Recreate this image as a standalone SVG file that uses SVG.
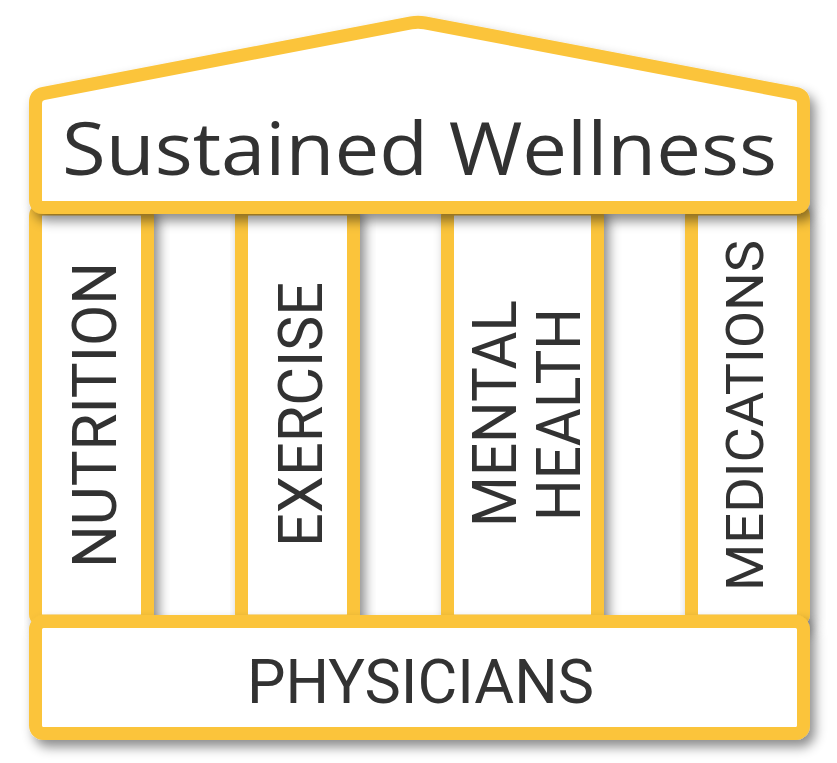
<svg xmlns="http://www.w3.org/2000/svg" width="837" height="763" viewBox="0 0 837 763">
  <defs>
    <filter id="shadow" x="-10%" y="-10%" width="130%" height="135%">
      <feDropShadow dx="5" dy="7" stdDeviation="6" flood-color="#000" flood-opacity="0.45"/>
    </filter>
    <style>
      .shape { fill: #FFFFFF; stroke: #FBC43B; stroke-width: 13; stroke-linejoin: round; }
      .lbl { font-family: Roboto, "Liberation Sans", sans-serif; fill: #333333; text-anchor: middle; }
      .title { font-family: "Open Sans", Inter, "Liberation Sans", sans-serif; fill: #333333; text-anchor: middle; }
    </style>
  </defs>
  <rect x="0" y="0" width="837" height="763" fill="#FFFFFF"/>

  <g id="pillar-nutrition" filter="url(#shadow)">
    <rect class="shape" x="35.5" y="209" width="112" height="412" rx="7"/>
    <text class="lbl" transform="translate(116,415) rotate(-90)" font-size="62" textLength="306" lengthAdjust="spacingAndGlyphs">NUTRITION</text>
  </g>
  <g id="pillar-exercise" filter="url(#shadow)">
    <rect class="shape" x="241.5" y="209" width="112" height="412" rx="7"/>
    <text class="lbl" transform="translate(322,414.5) rotate(-90)" font-size="62" textLength="265" lengthAdjust="spacingAndGlyphs">EXERCISE</text>
  </g>
  <g id="pillar-mental-health" filter="url(#shadow)">
    <rect class="shape" x="447.5" y="209" width="150" height="412" rx="7"/>
    <text class="lbl" transform="translate(516,413.5) rotate(-90)" font-size="62" textLength="227" lengthAdjust="spacingAndGlyphs">MENTAL</text>
    <text class="lbl" transform="translate(580,414.5) rotate(-90)" font-size="62" textLength="213" lengthAdjust="spacingAndGlyphs">HEALTH</text>
  </g>
  <g id="pillar-medications" filter="url(#shadow)">
    <rect class="shape" x="691.5" y="209" width="112" height="412" rx="7"/>
    <text class="lbl" transform="translate(763,415.5) rotate(-90)" font-size="52" textLength="351" lengthAdjust="spacingAndGlyphs">MEDICATIONS</text>
  </g>

  <g id="roof" filter="url(#shadow)">
    <path class="shape" d="M43.5,207.5 L795.5,207.5 Q803.5,207.5 803.5,199.5 L803.5,103 Q803.5,95 795.6,93.5 L424.9,22.8 Q418,21.5 411.1,22.8 L43.4,93.5 Q35.5,95 35.5,103 L35.5,199.5 Q35.5,207.5 43.5,207.5 Z"/>
    <text class="title" x="419.5" y="175" font-size="73" textLength="715" lengthAdjust="spacingAndGlyphs">Sustained Wellness</text>
  </g>

  <g id="base" filter="url(#shadow)">
    <rect class="shape" x="35.5" y="621.5" width="768" height="112" rx="8"/>
    <text class="lbl" x="420.5" y="703" font-size="62" textLength="347" lengthAdjust="spacingAndGlyphs">PHYSICIANS</text>
  </g>
</svg>
